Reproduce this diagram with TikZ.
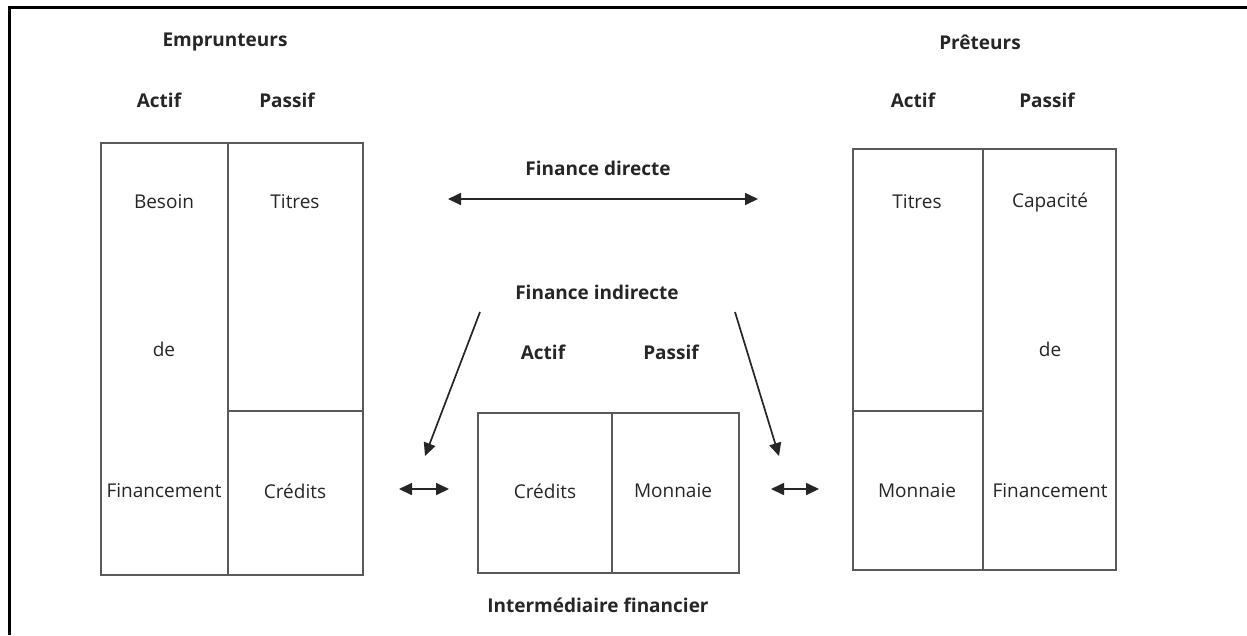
\documentclass[tikz,border=0pt]{standalone}
\usepackage{fontspec}
\setmainfont{Open Sans}
\usetikzlibrary{arrows.meta}
\definecolor{ink}{HTML}{262626}
\definecolor{rule}{HTML}{5A5A5A}
\tikzset{
  head/.style={font=\bfseries\fontsize{19}{22}\selectfont, text=ink, inner sep=0pt},
  cell/.style={font=\fontsize{19}{22}\selectfont, text=ink, inner sep=0pt},
  sheet/.style={draw=rule, line width=1.6pt},
  flow/.style={draw=ink, line width=1.7pt, -{Triangle[length=13pt,width=12pt]}},
  both/.style={draw=ink, line width=1.7pt, {Triangle[length=13pt,width=12pt]}-{Triangle[length=13pt,width=12pt]}}
}
\begin{document}
\begin{tikzpicture}[x=1pt,y=-1pt]
\useasboundingbox (0,0) rectangle (1247,635);
\fill[white] (0,0) rectangle (1247,635);
% outer frame (top and left edges)
\draw[black, line width=3pt] (9,635) -- (9,7) -- (1247,7);

% borrowers' balance sheet
\draw[sheet] (101,143) rectangle (363,575);
\draw[sheet] (228,143) -- (228,575);
\draw[sheet] (228,411) -- (363,411);
\node[head] (emp) at (225,42) {Emprunteurs};
\node[head] (empA) at (159,100) {Actif};
\node[head] (empP) at (287,100) {Passif};
\node[cell] (besoin) at (164,202) {Besoin};
\node[cell] (empde) at (164,349) {de};
\node[cell] (empfin) at (164,491) {Financement};
\node[cell] (emptit) at (295,202) {Titres};
\node[cell] (empcred) at (295,491) {Crédits};

% lenders' balance sheet
\draw[sheet] (853,149) rectangle (1116,570);
\draw[sheet] (983,149) -- (983,570);
\draw[sheet] (853,411) -- (983,411);
\node[head] (pre) at (980,42) {Prêteurs};
\node[head] (preA) at (913,100) {Actif};
\node[head] (preP) at (1047,100) {Passif};
\node[cell] (pretit) at (917,202) {Titres};
\node[cell] (premon) at (917,491) {Monnaie};
\node[cell] (capa) at (1050,202) {Capacité};
\node[cell] (prede) at (1050,349) {de};
\node[cell] (prefin) at (1050,491) {Financement};

% financial intermediary
\draw[sheet] (478,413) rectangle (739,573);
\draw[sheet] (612,413) -- (612,573);
\node[head] (intA) at (543,352) {Actif};
\node[head] (intP) at (671,352) {Passif};
\node[cell] (intcred) at (545,491) {Crédits};
\node[cell] (intmon) at (673,491) {Monnaie};
\node[head] (inter) at (598,605) {Intermédiaire financier};

% direct finance
\node[head] (dir) at (598,168) {Finance directe};
\coordinate (dirL) at (448,199);
\coordinate (dirR) at (758,199);
\draw[both] (dirL) -- (dirR);

% indirect finance
\node[head] (ind) at (597,292) {Finance indirecte};
\coordinate (indLs) at (480,312);
\coordinate (indLe) at (425,456);
\coordinate (indRs) at (735,312);
\coordinate (indRe) at (779,456);
\draw[flow] (indLs) -- (indLe);
\draw[flow] (indRs) -- (indRe);

% exchanges with the intermediary
\coordinate (exLa) at (399,489);
\coordinate (exLb) at (449,489);
\coordinate (exRa) at (771,489);
\coordinate (exRb) at (819,489);
\draw[both] (exLa) -- (exLb);
\draw[both] (exRa) -- (exRb);
\end{tikzpicture}
\end{document}
